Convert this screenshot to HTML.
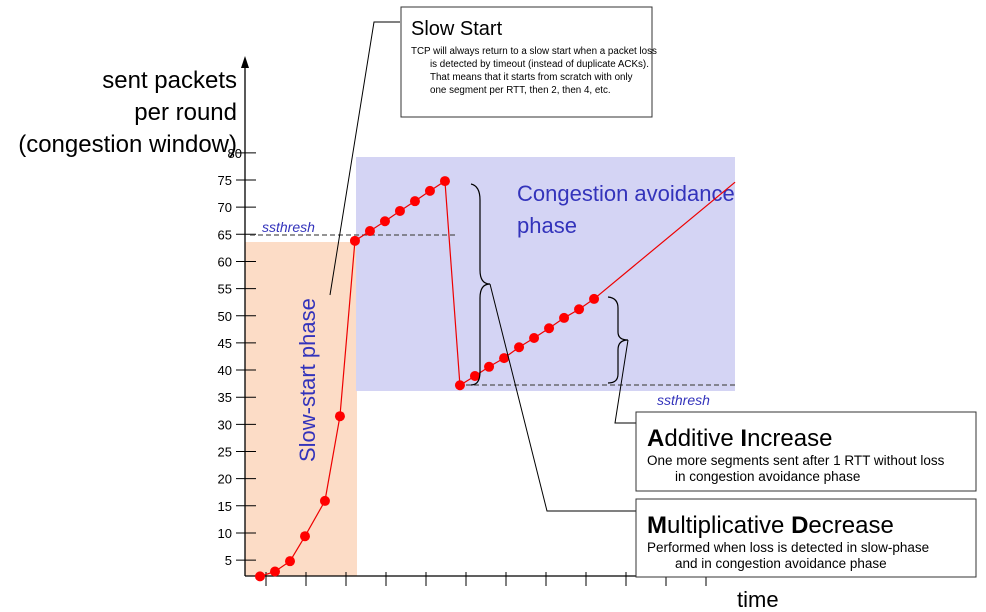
<!DOCTYPE html>
<html><head><meta charset="utf-8">
<style>
html,body{margin:0;padding:0;background:#fff;}
svg{display:block;font-family:"Liberation Sans","DejaVu Sans",sans-serif;}
</style></head>
<body>
<svg id="chart" width="986" height="612" viewBox="0 0 986 612" xmlns="http://www.w3.org/2000/svg">
  <rect x="245" y="242" width="112" height="334" fill="#fcdcc6"/>
  <rect x="356" y="157" width="379" height="234" fill="#d4d4f4"/>
  <g id="axes"></g>
  <line x1="250" y1="235" x2="455" y2="235" stroke="#555" stroke-width="1.2" stroke-dasharray="5,3"/>
  <text x="262" y="232" font-size="14" font-style="italic" fill="#3333bb">ssthresh</text>
  <line x1="466" y1="385" x2="735" y2="385" stroke="#555" stroke-width="1.2" stroke-dasharray="5,3"/>
  <text x="657" y="405" font-size="14" font-style="italic" fill="#3333bb">ssthresh</text>
  <text x="517" y="201" font-size="22" fill="#3333bb">Congestion avoidance</text>
  <text x="517" y="233" font-size="22" fill="#3333bb">phase</text>
  <text transform="translate(315,462) rotate(-90)" font-size="22" fill="#3333bb">Slow-start phase</text>
  <g id="series"></g>
  <path d="M471,184 Q480,186 480,200 L480,270 Q480,284 490,284 Q480,284 480,298 L480,372 Q480,385 471,385" fill="none" stroke="#000" stroke-width="1.2"/>
  <polyline points="490,284 547,511 637,511" fill="none" stroke="#000" stroke-width="1"/>
  <path d="M608,297 Q618,298 618,308 L618,332 Q618,340 628,340 Q618,340 618,350 L618,374 Q618,383 608,383" fill="none" stroke="#000" stroke-width="1.2"/>
  <polyline points="628,340 615,423 637,423" fill="none" stroke="#000" stroke-width="1"/>
  <polyline points="330,295 374,22 400,22" fill="none" stroke="#000" stroke-width="1"/>
  <g font-size="24" text-anchor="end" fill="#000">
    <text x="237" y="88">sent packets</text>
    <text x="237" y="120">per round</text>
    <text x="237" y="152">(congestion window)</text>
  </g>
  <text x="737" y="607" font-size="22">time</text>
  <g>
    <rect x="401" y="7" width="251" height="110" fill="#fff" stroke="#333" stroke-width="1"/>
    <text x="411" y="35" font-size="20">Slow Start</text>
    <g font-size="9.8"><text x="411" y="54">TCP will always return to a slow start when a packet loss</text>
    <text x="430" y="67">is detected by timeout (instead of duplicate ACKs).</text>
    <text x="430" y="80">That means that it starts from scratch with only</text>
    <text x="430" y="93">one segment per RTT, then 2, then 4, etc.</text></g>
  </g>
  <g>
    <rect x="636" y="412" width="340" height="79" fill="#fff" stroke="#333" stroke-width="1"/>
    <text x="647" y="446" font-size="24"><tspan font-weight="bold">A</tspan>dditive <tspan font-weight="bold">I</tspan>ncrease</text>
    <text x="647" y="465" font-size="13.5">One more segments sent after 1 RTT without loss</text>
    <text x="675" y="481" font-size="13.5">in congestion avoidance phase</text>
  </g>
  <g>
    <rect x="636" y="499" width="340" height="78" fill="#fff" stroke="#333" stroke-width="1"/>
    <text x="647" y="533" font-size="24"><tspan font-weight="bold">M</tspan>ultiplicative <tspan font-weight="bold">D</tspan>ecrease</text>
    <text x="647" y="552" font-size="13.5">Performed when loss is detected in slow-phase</text>
    <text x="675" y="568" font-size="13.5">and in congestion avoidance phase</text>
  </g>
</svg>
<script>
const times = [0,1,2,3,4.33,5.33,6.33,7.33,8.33,9.33,10.33,11.33,12.33,13.33,14.33,15.27,16.27,17.27,18.27,19.27,20.27,21.27,22.27];
const cwnd = [2.0,2.9,4.8,9.4,15.9,31.5,63.8,65.6,67.4,69.3,71.1,73.0,74.8,37.2,38.9,40.6,42.2,44.2,45.9,47.7,49.6,51.2,53.1];
const trendEnd = [31.67, 74.6];
const yTicks = [5,10,15,20,25,30,35,40,45,50,55,60,65,70,75,80];
const xTickCount = [1,2,3,4,5,6,7,8,9,10,11,12];
const NS="http://www.w3.org/2000/svg";
function X(t){return 260+t*15;}
function Y(v){return 180+(75-v)*5.43;}
function mk(tag,attrs,parent){const e=document.createElementNS(NS,tag);for(const k in attrs)e.setAttribute(k,attrs[k]);parent.appendChild(e);return e;}
const ax=document.getElementById('axes');
let a=mk('line',{x1:245,y1:576,x2:245,y2:62,stroke:'#000','stroke-width':1.3},ax);


a=mk('polygon',{points:'241,68 249,68 245,56',fill:'#000'},ax);


a=mk('line',{x1:245,y1:576,x2:725,y2:576,stroke:'#000','stroke-width':1.3},ax);


yTicks.forEach(v=>{
  const y=Y(v);
  let l=mk('line',{x1:236,y1:y,x2:256,y2:y,stroke:'#000','stroke-width':1},ax);
  
  
  let t=mk('text',{x:v===80?242:232,y:y+5,'font-size':13,'text-anchor':'end'},ax);
  
  
  t.textContent=v;
});
xTickCount.forEach(i=>{
  const x=226+i*40;
  let l=mk('line',{x1:x,y1:572,x2:x,y2:586,stroke:'#000','stroke-width':1},ax);
  
  
});
const s=document.getElementById('series');
const pts=times.map((t,i)=>X(t)+','+Y(cwnd[i])).join(' ');
let pl=mk('polyline',{points:pts,fill:'none',stroke:'#e00','stroke-width':1.2},s);


const li=times.length-1;
let tl=mk('line',{x1:X(times[li]),y1:Y(cwnd[li]),x2:X(trendEnd[0]),y2:Y(trendEnd[1]),stroke:'#e00','stroke-width':1.2},s);


times.forEach((t,i)=>{
  let c=mk('circle',{cx:X(t),cy:Y(cwnd[i]),r:5,fill:'#f00'},s);
  
  
});
</script>
</body></html>
